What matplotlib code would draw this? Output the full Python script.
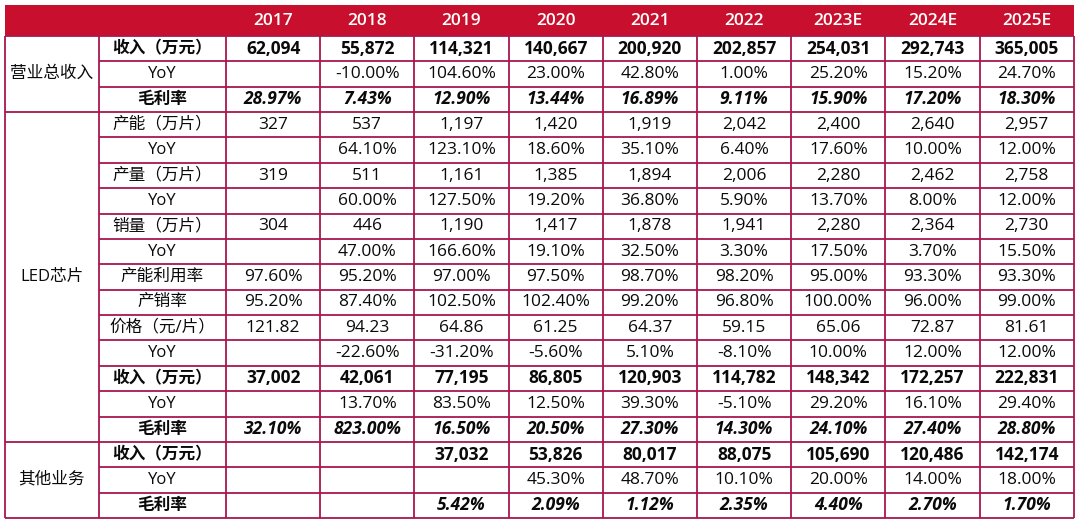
import matplotlib
matplotlib.use("Agg")
import matplotlib.pyplot as plt
from matplotlib.patches import Rectangle

plt.rcParams['font.family'] = ['Open Sans', 'Noto Sans CJK SC', 'DejaVu Sans']

years = ['2017', '2018', '2019', '2020', '2021', '2022', '2023E', '2024E', '2025E']

total_rev = [62094, 55872, 114321, 140667, 200920, 202857, 254031, 292743, 365005]
total_yoy = [None, -10.00, 104.60, 23.00, 42.80, 1.00, 25.20, 15.20, 24.70]
total_gm = [28.97, 7.43, 12.90, 13.44, 16.89, 9.11, 15.90, 17.20, 18.30]

led_cap = [327, 537, 1197, 1420, 1919, 2042, 2400, 2640, 2957]
led_cap_yoy = [None, 64.10, 123.10, 18.60, 35.10, 6.40, 17.60, 10.00, 12.00]
led_prod = [319, 511, 1161, 1385, 1894, 2006, 2280, 2462, 2758]
led_prod_yoy = [None, 60.00, 127.50, 19.20, 36.80, 5.90, 13.70, 8.00, 12.00]
led_sales = [304, 446, 1190, 1417, 1878, 1941, 2280, 2364, 2730]
led_sales_yoy = [None, 47.00, 166.60, 19.10, 32.50, 3.30, 17.50, 3.70, 15.50]
led_util = [97.60, 95.20, 97.00, 97.50, 98.70, 98.20, 95.00, 93.30, 93.30]
led_sellthru = [95.20, 87.40, 102.50, 102.40, 99.20, 96.80, 100.00, 96.00, 99.00]
led_price = [121.82, 94.23, 64.86, 61.25, 64.37, 59.15, 65.06, 72.87, 81.61]
led_price_yoy = [None, -22.60, -31.20, -5.60, 5.10, -8.10, 10.00, 12.00, 12.00]
led_rev = [37002, 42061, 77195, 86805, 120903, 114782, 148342, 172257, 222831]
led_rev_yoy = [None, 13.70, 83.50, 12.50, 39.30, -5.10, 29.20, 16.10, 29.40]
led_gm = [32.10, 823.00, 16.50, 20.50, 27.30, 14.30, 24.10, 27.40, 28.80]

other_rev = [None, None, 37032, 53826, 80017, 88075, 105690, 120486, 142174]
other_yoy = [None, None, None, 45.30, 48.70, 10.10, 20.00, 14.00, 18.00]
other_gm = [None, None, 5.42, 2.09, 1.12, 2.35, 4.40, 2.70, 1.70]

groups = ['营业总收入', 'LED芯片', '其他业务']

# (group index, label, values, format, style)
rows = [
    (0, '收入（万元）', total_rev, 'int', 'bold'),
    (0, 'YoY', total_yoy, 'pct', 'normal'),
    (0, '毛利率', total_gm, 'pct', 'bolditalic'),
    (1, '产能（万片）', led_cap, 'int', 'normal'),
    (1, 'YoY', led_cap_yoy, 'pct', 'normal'),
    (1, '产量（万片）', led_prod, 'int', 'normal'),
    (1, 'YoY', led_prod_yoy, 'pct', 'normal'),
    (1, '销量（万片）', led_sales, 'int', 'normal'),
    (1, 'YoY', led_sales_yoy, 'pct', 'normal'),
    (1, '产能利用率', led_util, 'pct', 'normal'),
    (1, '产销率', led_sellthru, 'pct', 'normal'),
    (1, '价格（元/片）', led_price, 'float', 'normal'),
    (1, 'YoY', led_price_yoy, 'pct', 'normal'),
    (1, '收入（万元）', led_rev, 'int', 'bold'),
    (1, 'YoY', led_rev_yoy, 'pct', 'normal'),
    (1, '毛利率', led_gm, 'pct', 'bolditalic'),
    (2, '收入（万元）', other_rev, 'int', 'bold'),
    (2, 'YoY', other_yoy, 'pct', 'normal'),
    (2, '毛利率', other_gm, 'pct', 'bolditalic'),
]


def fmt(v, kind):
    if v is None:
        return ''
    if kind == 'int':
        return f'{v:,.0f}'
    if kind == 'pct':
        return f'{v:.2f}%'
    return f'{v:.2f}'


W, H = 1080, 524
fig = plt.figure(figsize=(W / 100, H / 100), dpi=100)
ax = fig.add_axes([0, 0, 1, 1])
ax.set_xlim(0, W)
ax.set_ylim(H, 0)
ax.axis('off')

RED = '#C8102E'
LINE = '#A8184E'
LW = 1.3
TXT = '#0a0a0a'

x0 = 5
x_lab = 99
x_years = 226
col_w = 94.2
x_end = x_years + col_w * len(years)
y0 = 5
y_hdr = 36
y_end = 518
row_h = (y_end - y_hdr) / len(rows)
FS_NUM = 12.5
FS_CJK = 12
FS_HDR = 12.5
CJK = ['Open Sans', 'Noto Sans CJK SC']

# header
ax.add_patch(Rectangle((x0, y0), x_end - x0, y_hdr - y0, facecolor=RED, edgecolor='none'))
for j, yr in enumerate(years):
    ax.text(x_years + col_w * (j + 0.5), (y0 + y_hdr) / 2 + 0.5, yr, color='white',
            ha='center', va='center', fontsize=FS_HDR, fontweight='semibold')

# group spans
spans = {}
for i, r in enumerate(rows):
    g = r[0]
    spans.setdefault(g, [i, i])
    spans[g][1] = i

for i, (g, lab, vals, kind, style) in enumerate(rows):
    yc = y_hdr + row_h * (i + 0.5)
    weight = 'bold' if style in ('bold', 'bolditalic') else 'normal'
    fstyle = 'italic' if style == 'bolditalic' else 'normal'
    ax.text((x_lab + x_years) / 2, yc, lab, ha='center', va='center', fontsize=FS_CJK,
            fontweight=weight, fontstyle=fstyle, color=TXT, family=CJK)
    for j, v in enumerate(vals):
        ax.text(x_years + col_w * (j + 0.5), yc, fmt(v, kind), ha='center', va='center',
                fontsize=FS_NUM, fontweight=weight, fontstyle=fstyle, color=TXT)

for g, (a, b) in spans.items():
    yc = y_hdr + row_h * (a + b + 1) / 2
    ax.text((x0 + x_lab) / 2, yc, groups[g], ha='center', va='center', fontsize=FS_CJK,
            color=TXT, family=CJK)

# horizontal lines
for i in range(len(rows) + 1):
    y = y_hdr + row_h * i
    is_group_edge = i == 0 or i == len(rows) or rows[i][0] != rows[i - 1][0]
    xs = x0 if is_group_edge else x_lab
    ax.plot([xs, x_end], [y, y], color=LINE, lw=LW, solid_capstyle='butt')

# vertical lines
vx = [x0, x_lab] + [x_years + col_w * j for j in range(len(years) + 1)]
for x in vx:
    ax.plot([x, x], [y_hdr, y_end], color=LINE, lw=LW, solid_capstyle='butt')

fig.savefig('out.png', dpi=100, facecolor='white')
